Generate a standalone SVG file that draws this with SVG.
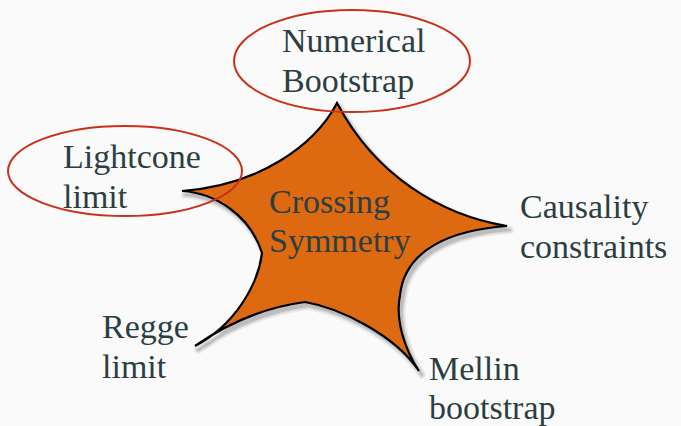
<svg xmlns="http://www.w3.org/2000/svg" width="681" height="426" viewBox="0 0 681 426">
  <style>
    .lbl { font-size: 34px; fill: #2d3e43; }
    .ring { fill: none; stroke: #c8321c; stroke-width: 2; }
    .star { fill: #dd6a11; stroke: #000; stroke-width: 2.2; stroke-linejoin: miter; }
    .shade { fill: #000; stroke: #000; stroke-linejoin: round; }
  </style>
  <defs>
    <path id="star-outline" d="M337,103 C315,145 260,185 182,191 C215,193 250,215 262,253 C258,285 235,325 195,346 C225,325 260,308 305,302 C340,308 395,335 419,371 C405,350 395,320 400,295 C405,250 450,230 507,226 C440,215 375,175 337,103 Z"/>
  </defs>
  <rect width="681" height="426" fill="#fafafa"/>

  <g id="crossing-symmetry">
    <!-- soft shadow built from stacked, offset translucent copies -->
    <g class="shade">
      <use href="#star-outline" transform="translate(3,4)" stroke-width="8" opacity="0.05"/>
      <use href="#star-outline" transform="translate(3,4)" stroke-width="5" opacity="0.08"/>
      <use href="#star-outline" transform="translate(3,4)" stroke-width="2" opacity="0.12"/>
    </g>
    <use href="#star-outline" class="star"/>
    <g font-family="Liberation Serif, serif">
      <text class="lbl" x="269" y="213">Crossing</text>
      <text class="lbl" x="269" y="252">Symmetry</text>
    </g>
  </g>

  <g id="numerical-bootstrap" font-family="Liberation Serif, serif">
    <ellipse class="ring" cx="352" cy="61" rx="118" ry="51"/>
    <text class="lbl" x="282" y="52">Numerical</text>
    <text class="lbl" x="282" y="92">Bootstrap</text>
  </g>

  <g id="lightcone-limit" font-family="Liberation Serif, serif">
    <ellipse class="ring" cx="125" cy="171" rx="117" ry="45"/>
    <text class="lbl" x="63" y="168">Lightcone</text>
    <text class="lbl" x="63" y="208">limit</text>
  </g>

  <g id="causality-constraints" font-family="Liberation Serif, serif">
    <text class="lbl" x="520" y="218">Causality</text>
    <text class="lbl" x="520" y="258">constraints</text>
  </g>

  <g id="regge-limit" font-family="Liberation Serif, serif">
    <text class="lbl" x="102" y="338">Regge</text>
    <text class="lbl" x="102" y="378">limit</text>
  </g>

  <g id="mellin-bootstrap" font-family="Liberation Serif, serif">
    <text class="lbl" x="429" y="380">Mellin</text>
    <text class="lbl" x="429" y="419">bootstrap</text>
  </g>
</svg>
